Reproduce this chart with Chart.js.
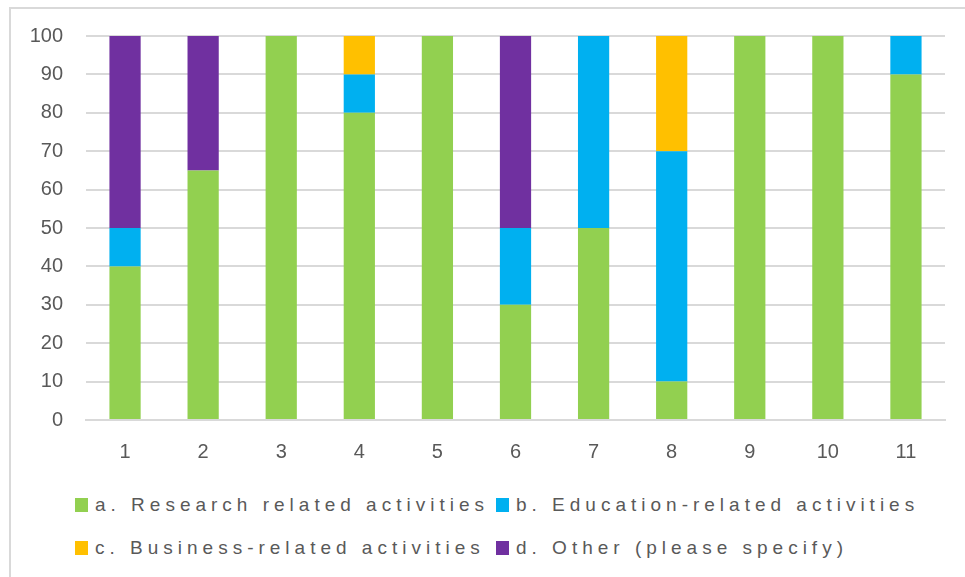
<!DOCTYPE html>
<html>
<head>
<meta charset="utf-8">
<script src="https://cdn.jsdelivr.net/npm/chart.js@4/dist/chart.umd.min.js"></script>
<style>
  html, body { margin: 0; padding: 0; background: #fff; }
  #wrap { position: relative; width: 965px; height: 577px; overflow: hidden; }
  #frame { position: absolute; left: 9px; top: 7px; width: 980px; height: 600px;
           border-left: 2px solid #d9d9d9; border-top: 2px solid #d9d9d9; }
  #chartBox { position: absolute; left: 0; top: 0; width: 965px; height: 470px; }
  .leg { position: absolute; font-family: "Liberation Sans", Arial, sans-serif; font-size: 19px;
         color: #595959; white-space: nowrap; letter-spacing: 5px; line-height: 20px; }
  .leg i { position: absolute; left: -20px; top: 3px; width: 13px; height: 14px; }
</style>
</head>
<body>
<div id="wrap">
  <div id="frame"></div>
  <div id="chartBox"><canvas id="myChart"></canvas></div>
  <div id="legend"></div>
</div>
<script>
// === data ===
const categories = ['1', '2', '3', '4', '5', '6', '7', '8', '9', '10', '11'];
const seriesNames = [
  'a. Research related activities',
  'b. Education-related activities',
  'c. Business-related activities',
  'd. Other (please specify)'
];
const research  = [40, 65, 100, 80, 100, 30, 50, 10, 100, 100, 90];
const education = [10, 0, 0, 10, 0, 20, 50, 60, 0, 0, 10];
const business  = [0, 0, 0, 10, 0, 0, 0, 30, 0, 0, 0];
const other     = [50, 35, 0, 0, 0, 50, 0, 0, 0, 0, 0];
const colors = ['#92D050', '#00B0F0', '#FFC000', '#7030A0'];

const tickFont = { family: 'Liberation Sans', size: 20 };
const grey = '#595959';

const ctx = document.getElementById('myChart').getContext('2d');
new Chart(ctx, {
  type: 'bar',
  data: {
    labels: categories,
    datasets: [research, education, business, other].map((d, i) => ({
      label: seriesNames[i],
      data: d,
      backgroundColor: colors[i],
      borderWidth: 0,
      barPercentage: 0.4,
      categoryPercentage: 1
    }))
  },
  options: {
    responsive: true,
    maintainAspectRatio: false,
    animation: false,
    layout: { padding: { top: 36, right: 20, left: 0, bottom: 0 } },
    plugins: { legend: { display: false }, tooltip: { enabled: false } },
    scales: {
      x: {
        stacked: true,
        grid: { display: false, drawTicks: false },
        border: { color: '#d9d9d9', width: 2 },
        ticks: { color: grey, font: tickFont, padding: 20 },
        afterFit: s => { s.height = 50; }
      },
      y: {
        stacked: true,
        min: 0, max: 100,
        ticks: { stepSize: 10, color: grey, font: tickFont, padding: 23 },
        grid: { color: '#d9d9d9', lineWidth: 2, drawTicks: false },
        border: { display: false },
        afterFit: s => { s.width = 86; }
      }
    }
  }
});

// legend laid out in two columns like the original
const legPos = [[95, 495], [516, 495], [95, 538], [516, 538]];
const legend = document.getElementById('legend');
seriesNames.forEach((name, i) => {
  const el = document.createElement('div');
  el.className = 'leg';
  el.style.left = legPos[i][0] + 'px';
  el.style.top = legPos[i][1] + 'px';
  el.innerHTML = `<i style="background:${colors[i]}"></i>${name}`;
  legend.appendChild(el);
});
</script>
</body>
</html>
